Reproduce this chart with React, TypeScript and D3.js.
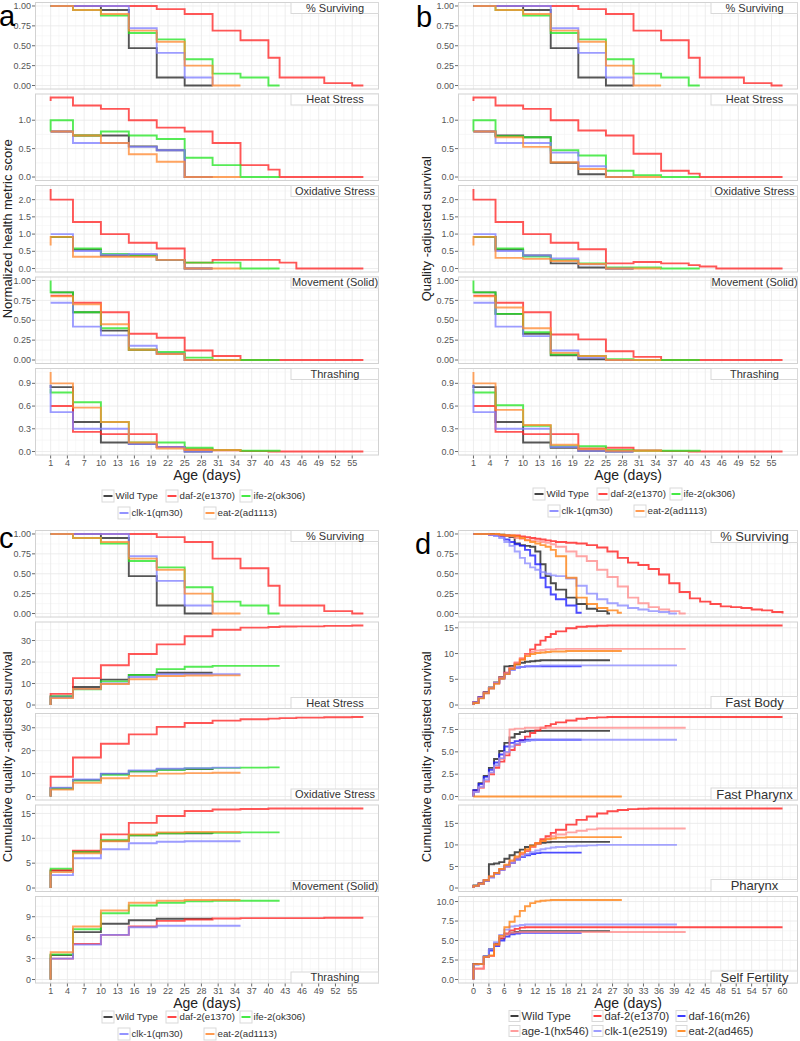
import React from "react";
import * as d3 from "d3";

// ---------- Panels a, b, c (day grid, first point duplicated = start value) ----------
const abcDays = [1, 1, 5, 10, 15, 20, 25, 30, 35, 40, 42, 45, 50, 55, 57];
const abcXTicks = [1, 4, 7, 10, 13, 16, 19, 22, 25, 28, 31, 34, 37, 40, 43, 46, 49, 52, 55];
const abcStrains = ["Wild Type", "daf-2(e1370)", "ife-2(ok306)", "clk-1(qm30)", "eat-2(ad1113)"];
const abcColors = ["#262626", "#ff2626", "#26e626", "#8080ff", "#ff8a33"];
const abcMetrics = ["% Surviving", "Heat Stress", "Oxidative Stress", "Movement (Solid)", "Thrashing"];

// series order: Wild Type, daf-2, ife-2, clk-1, eat-2
const survival = [
  [1, 1, 1, 0.95, 0.47, 0.1, 0, 0],
  [1, 1, 1, 1, 1, 0.96, 0.9, 0.69, 0.57, 0.35, 0.1, 0.1, 0.03, 0, 0],
  [1, 1, 0.95, 0.88, 0.66, 0.58, 0.33, 0.15, 0.1, 0, 0],
  [1, 1, 1, 1, 0.72, 0.41, 0.1, 0],
  [1, 1, 0.95, 0.9, 0.69, 0.55, 0.25, 0, 0],
];

const aHeat = [
  [0.8, 0.8, 0.73, 0.73, 0.54, 0.47, 0, 0],
  [1.34, 1.4, 1.26, 1.2, 1.0, 0.87, 0.8, 0.6, 0.21, 0.13, 0, 0, 0, 0, 0],
  [0.8, 1.0, 0.73, 0.8, 0.73, 0.67, 0.34, 0.21, 0, 0, 0],
  [0.8, 0.8, 0.6, 0.6, 0.53, 0.47, 0, 0],
  [0.8, 0.8, 0.73, 0.6, 0.4, 0.27, 0, 0, 0],
];
const aOxid = [
  [0.92, 0.92, 0.55, 0.38, 0.38, 0.25, 0, 0],
  [2.31, 2.0, 1.35, 1.0, 0.75, 0.58, 0.17, 0.25, 0.25, 0.25, 0.17, 0, 0, 0, 0],
  [0.92, 0.92, 0.58, 0.42, 0.38, 0.25, 0.17, 0.17, 0, 0, 0],
  [1.0, 1.0, 0.51, 0.4, 0.42, 0.25, 0, 0],
  [0.67, 0.92, 0.34, 0.34, 0.34, 0.25, 0, 0, 0],
];
const aMove = [
  [0.85, 0.85, 0.6, 0.37, 0.13, 0.08, 0, 0],
  [0.81, 0.81, 0.72, 0.6, 0.33, 0.28, 0.12, 0.05, 0, 0, 0, 0, 0, 0, 0],
  [1.0, 0.85, 0.6, 0.4, 0.13, 0.1, 0.03, 0, 0, 0, 0],
  [0.72, 0.72, 0.42, 0.31, 0.18, 0.08, 0, 0],
  [0.8, 0.8, 0.7, 0.45, 0.13, 0.075, 0, 0, 0],
];
const aThrash = [
  [0.88, 0.85, 0.39, 0.12, 0.1, 0.06, 0, 0],
  [0.6, 0.6, 0.26, 0.23, 0.23, 0.06, 0.03, 0.015, 0.005, 0, 0, 0, 0, 0, 0],
  [0.83, 0.78, 0.65, 0.39, 0.12, 0.12, 0.05, 0.02, 0.01, 0.01, 0],
  [0.88, 0.52, 0.3, 0.3, 0.1, 0.06, 0, 0],
  [1.05, 0.9, 0.58, 0.39, 0.12, 0.04, 0.02, 0.02, 0],
];

const bHeat = [
  [0.8, 0.8, 0.73, 0.7, 0.25, 0.05, 0, 0],
  [1.34, 1.4, 1.26, 1.2, 1.0, 0.82, 0.73, 0.41, 0.11, 0.06, 0, 0, 0, 0, 0],
  [0.8, 1.0, 0.72, 0.7, 0.47, 0.38, 0.11, 0.03, 0, 0, 0],
  [0.8, 0.8, 0.6, 0.6, 0.43, 0.19, 0, 0],
  [0.8, 0.8, 0.7, 0.53, 0.26, 0.14, 0, 0, 0],
];
const bOxid = [
  [0.92, 0.92, 0.55, 0.38, 0.15, 0.03, 0, 0],
  [2.31, 2.0, 1.35, 1.0, 0.75, 0.56, 0.15, 0.19, 0.15, 0.1, 0.06, 0, 0, 0, 0],
  [0.92, 0.92, 0.58, 0.35, 0.25, 0.15, 0.03, 0.03, 0, 0, 0],
  [1.0, 1.0, 0.51, 0.38, 0.29, 0.12, 0, 0],
  [0.67, 0.92, 0.31, 0.28, 0.22, 0.13, 0, 0, 0],
];
const bMove = [
  [0.85, 0.85, 0.58, 0.33, 0.06, 0.01, 0, 0],
  [0.81, 0.81, 0.72, 0.6, 0.32, 0.26, 0.11, 0.04, 0, 0, 0, 0, 0, 0, 0],
  [1.0, 0.85, 0.58, 0.35, 0.07, 0.05, 0.01, 0, 0, 0, 0],
  [0.72, 0.72, 0.42, 0.3, 0.12, 0.03, 0, 0],
  [0.8, 0.8, 0.66, 0.4, 0.09, 0.05, 0, 0, 0],
];
const bThrash = [
  [0.88, 0.85, 0.39, 0.12, 0.05, 0.01, 0, 0],
  [0.6, 0.6, 0.26, 0.23, 0.23, 0.04, 0.05, 0.015, 0.005, 0, 0, 0, 0, 0, 0],
  [0.83, 0.78, 0.61, 0.34, 0.07, 0.07, 0.02, 0.01, 0.01, 0.01, 0],
  [0.88, 0.52, 0.3, 0.3, 0.06, 0.01, 0, 0],
  [1.05, 0.9, 0.55, 0.35, 0.09, 0.03, 0.01, 0.01, 0],
];

const cHeat = [
  [0, 4, 8.4, 11.8, 14, 15, 15, 15],
  [0, 5.2, 12.5, 18.5, 23.7, 28.2, 32, 35, 36, 36.3, 36.5, 36.6, 36.8, 37, 37],
  [0, 4, 7.3, 11, 14, 16.7, 17.8, 18.2, 18.2, 18.2, 18.2],
  [0, 3.5, 7.5, 10, 13, 14.3, 14.3, 14.3, 14.3],
  [0, 3.2, 7.5, 9.8, 12, 13.5, 13.7, 13.8, 13.8],
];
const cOxid = [
  [0, 3.6, 7.2, 9.8, 11, 11.8, 12, 12.1],
  [0, 8.6, 17, 23, 27.1, 30.4, 32.1, 33.1, 33.7, 34, 34.2, 34.4, 34.6, 34.7, 34.7],
  [0, 3.5, 7, 9.5, 11, 11.7, 12.2, 12.5, 12.6, 12.7, 12.7],
  [0, 3.9, 7.4, 10, 11.4, 12.1, 12.4, 12.6, 12.6],
  [0, 3.0, 6, 8, 9, 10, 10.2, 10.4, 10.4],
];
const cMove = [
  [0, 3.5, 7.3, 9.5, 10.6, 11, 11, 10.9],
  [0, 3.6, 7.5, 10.8, 13.1, 14.5, 15.5, 15.8, 15.9, 16, 16, 16, 16, 16, 16],
  [0, 3.9, 7.2, 9.6, 10.6, 11, 11.1, 11.1, 11.2, 11.2, 11.2],
  [0, 2.6, 6, 7.8, 9, 9.3, 9.4, 9.4, 9.4],
  [0, 3.2, 7, 9.4, 10.8, 11.2, 11.3, 11.3, 11.3],
];
const cThrash = [
  [0, 3.5, 6.8, 8.0, 8.5, 8.7, 8.7, 8.7],
  [0, 3, 5.1, 6.4, 7.6, 8.4, 8.6, 8.75, 8.8, 8.8, 8.8, 8.8, 8.85, 8.85, 8.85],
  [0, 3.6, 7.2, 9.5, 10.6, 11, 11.2, 11.3, 11.3, 11.3, 11.3],
  [0, 3, 5, 6.4, 7.5, 7.7, 7.7, 7.7, 7.7],
  [0, 3.9, 7.6, 9.9, 11, 11.3, 11.4, 11.4, 11.4],
];

// ---------- Panel d ----------
const dDays = [0, 0, 1, 2, 3, 4, 5, 6, 7, 8, 9, 10, 11, 12, 13, 14, 15, 16, 18, 20, 22, 24, 26, 28, 30, 32, 34, 36, 38, 40, 42, 44, 46, 48, 50, 52, 54, 56, 58, 60];
const dXTicks = [0, 3, 6, 9, 12, 15, 18, 21, 24, 27, 30, 33, 36, 39, 42, 45, 48, 51, 54, 57, 60];
const dStrains = ["Wild Type", "daf-2(e1370)", "daf-16(m26)", "age-1(hx546)", "clk-1(e2519)", "eat-2(ad465)"];
const dColors = ["#1a1a1a", "#ff1a1a", "#1a1aff", "#ff8c8c", "#8c8cff", "#ff7f0e"];
const dEnds = [26.5, 60, 21, 41.2, 39.5, 28.8];
const dMetrics = ["% Surviving", "Fast Body", "Fast Pharynx", "Pharynx", "Self Fertility"];

// series order: Wild Type, daf-2, daf-16, age-1, clk-1, eat-2
const dSurv = [
  [1, 1, 1, 1, 1, 0.99, 0.99, 0.98, 0.96, 0.88, 0.86, 0.85, 0.84, 0.78, 0.62, 0.47, 0.38, 0.3, 0.2, 0.12, 0.06, 0.03, 0.0],
  [1, 1, 1, 1, 0.99, 0.99, 0.98, 0.98, 0.98, 0.98, 0.97, 0.96, 0.95, 0.94, 0.93, 0.92, 0.91, 0.9, 0.89, 0.88, 0.86, 0.83, 0.78, 0.7, 0.64, 0.61, 0.56, 0.49, 0.38, 0.27, 0.19, 0.15, 0.12, 0.09, 0.08, 0.07, 0.05, 0.04, 0.02, 0.0],
  [1, 1, 1, 1, 0.99, 0.98, 0.97, 0.93, 0.9, 0.87, 0.85, 0.8, 0.73, 0.62, 0.45, 0.33, 0.24, 0.18, 0.1, 0.01],
  [1, 1, 1, 1, 0.99, 0.99, 0.98, 0.98, 0.97, 0.95, 0.94, 0.93, 0.92, 0.91, 0.9, 0.89, 0.87, 0.84, 0.78, 0.72, 0.66, 0.55, 0.46, 0.34, 0.2, 0.13, 0.08, 0.05, 0.03, 0.0],
  [1, 1, 1, 1, 0.99, 0.98, 0.95, 0.9, 0.85, 0.78, 0.7, 0.63, 0.58, 0.55, 0.52, 0.5, 0.48, 0.47, 0.44, 0.35, 0.25, 0.18, 0.13, 0.1, 0.07, 0.05, 0.03, 0.02, 0.0],
  [1, 1, 1, 1, 1, 1, 0.99, 0.98, 0.98, 0.97, 0.95, 0.92, 0.9, 0.88, 0.86, 0.84, 0.8, 0.72, 0.45, 0.2, 0.12, 0.07, 0.04, 0.01],
];
const dFastBody = [
  [0, 0.6, 1.5, 2.5, 3.4, 4.4, 5.4, 7.5, 7.6, 7.9, 8.2, 8.4, 8.5, 8.6, 8.7],
  [0, 0.5, 1.5, 2.4, 3.3, 4.3, 5.3, 6.3, 7.2, 8.2, 9.0, 9.9, 10.8, 11.7, 12.5, 13.2, 13.8, 14.3, 14.9, 15.2, 15.3, 15.4, 15.45],
  [0, 0.5, 1.5, 2.4, 3.3, 4.3, 5.2, 6.1, 6.9, 7.3, 7.4, 7.5],
  [0, 0.5, 1.4, 2.4, 3.3, 4.3, 5.3, 6.2, 7.2, 8.2, 9.1, 9.8, 10.3, 10.6, 10.7, 10.8, 10.8, 10.9],
  [0, 0.5, 1.4, 2.3, 3.2, 4.2, 5.1, 6.0, 6.8, 7.2, 7.4, 7.5, 7.6, 7.6, 7.7],
  [0, 0.4, 1.3, 2.3, 3.2, 4.1, 5.1, 6.0, 7.0, 7.9, 8.8, 9.5, 9.9, 10.1, 10.2, 10.3, 10.4, 10.4, 10.5],
];
const dFastPharynx = [
  [0, 0.7, 1.5, 2.3, 3.2, 4.2, 5.1, 6.0, 6.6, 7.0, 7.2, 7.3, 7.35],
  [0, 0.6, 1.0, 1.7, 2.5, 3.2, 3.9, 4.6, 5.2, 5.8, 6.3, 6.7, 7.1, 7.4, 7.7, 7.9, 8.1, 8.3, 8.5, 8.7, 8.8, 8.85, 8.9],
  [0, 0.7, 1.4, 2.2, 3.0, 3.8, 4.7, 5.6, 6.0, 6.2, 6.3, 6.35],
  [0, 0.5, 1.0, 1.7, 2.6, 3.4, 4.2, 4.9, 7.5, 7.6, 7.6, 7.7],
  [0, 0.5, 1.1, 1.9, 2.7, 3.5, 4.3, 5.0, 5.6, 5.9, 6.1, 6.2, 6.3, 6.35],
  [0, 0],
];
const dPharynx = [
  [0, 0.6, 1.1, 1.8, 5.5, 5.7, 6.0, 6.8, 7.6, 8.3, 8.9, 9.5, 9.9, 10.2, 10.5, 10.6, 10.7],
  [0, 0.5, 1.0, 1.8, 2.6, 3.5, 4.3, 5.0, 5.8, 6.8, 7.8, 8.6, 9.5, 10.4, 11.3, 12.0, 12.8, 13.5, 14.7, 15.8, 16.6, 17.3, 17.8, 18.1, 18.3, 18.4, 18.45],
  [0, 0.5, 1.0, 1.7, 2.5, 3.3, 4.2, 5.1, 5.9, 6.6, 7.2, 7.6, 7.9, 8.1, 8.2],
  [0, 0.5, 1.0, 1.8, 2.6, 3.4, 4.3, 5.2, 6.1, 7.0, 7.9, 8.7, 9.5, 10.2, 10.9, 11.5, 12.0, 12.4, 12.9, 13.3, 13.6, 13.8],
  [0, 0.5, 1.0, 1.7, 2.5, 3.3, 4.2, 5.0, 5.8, 6.6, 7.3, 7.9, 8.3, 8.7, 9.0, 9.2, 9.4, 9.5, 9.7, 9.8, 9.9, 10.0],
  [0, 0.5, 1.0, 1.8, 2.7, 3.5, 4.4, 5.4, 6.4, 7.3, 8.2, 9.0, 9.8, 10.4, 10.9, 11.3, 11.5, 11.7, 11.8],
];
const dSelfFert = [
  [0, 2.0, 2.0, 3.0, 3.9, 4.6, 5.3, 5.8, 6.0, 6.1, 6.2],
  [0, 1.4, 1.4, 2.9, 3.0, 4.5, 5.3, 5.9, 6.3, 6.5, 6.65, 6.7],
  [0, 2.0, 2.0, 2.9, 3.7, 4.3, 5.0, 5.5, 5.8, 5.9, 6.0],
  [0, 1.4, 1.4, 2.9, 3.0, 4.5, 5.4, 5.8, 6.0, 6.05, 6.1],
  [0, 1.9, 2.0, 3.0, 3.9, 4.8, 5.7, 6.4, 6.8, 6.9, 7.0, 7.05],
  [0, 2.0, 2.0, 2.9, 3.1, 4.5, 5.6, 6.7, 7.4, 8.1, 8.8, 9.4, 9.8, 10.0, 10.1, 10.15, 10.2],
];

// ---------- y tick labels ----------
const ticksSurv = [0, 0.25, 0.5, 0.75, 1];
const ticksHalf3 = [0, 0.5, 1];
const ticksHalf5 = [0, 0.5, 1, 1.5, 2];
const ticksThrashA = [0, 0.3, 0.6, 0.9];
const ticksTens = [0, 10, 20, 30];
const ticksFives = [0, 5, 10, 15];
const ticksThrees = [0, 3, 6, 9];
const ticksQuarter4 = [0, 2.5, 5, 7.5];
const ticksQuarter5 = [0, 2.5, 5, 7.5, 10];

const FONT = "'Liberation Sans', Arial, sans-serif";

type Facet = { label: string; series: number[][]; ticks: number[]; digits: number };

function mkFacets(labels: string[], data: number[][][], ticks: number[][], digits: number[]): Facet[] {
  return labels.map((l, i) => ({ label: l, series: data[i], ticks: ticks[i], digits: digits[i] }));
}

const facetsA = mkFacets(abcMetrics, [survival, aHeat, aOxid, aMove, aThrash], [ticksSurv, ticksHalf3, ticksHalf5, ticksSurv, ticksThrashA], [2, 1, 1, 2, 1]);
const facetsB = mkFacets(abcMetrics, [survival, bHeat, bOxid, bMove, bThrash], [ticksSurv, ticksHalf3, ticksHalf5, ticksSurv, ticksThrashA], [2, 1, 1, 2, 1]);
const facetsC = mkFacets(abcMetrics, [survival, cHeat, cOxid, cMove, cThrash], [ticksSurv, ticksTens, ticksTens, ticksFives, ticksThrees], [2, 0, 0, 0, 0]);
const facetsD = mkFacets(dMetrics, [dSurv, dFastBody, dFastPharynx, dPharynx, dSelfFert], [ticksSurv, ticksFives, ticksQuarter4, ticksFives, ticksQuarter5], [2, 0, 1, 0, 1]);

type PanelProps = {
  x0: number; x1: number; top: number; fh: number; gap: number;
  days: number[]; xTicks: number[]; facets: Facet[]; colors: string[]; ends?: number[];
  stripW: number; stripH: number; stripFont: number; stripBottom: boolean;
  letter: string; letterX: number; letterY: number;
  yTitle: string; yTitleX: number;
  legendNames: string[]; legendRows: number[][]; legendX: number[][]; legendY: number[]; legendFont: number; keySize: number;
};

function Panel(p: PanelProps) {
  const allDays = p.ends ? [...p.days, ...p.ends] : p.days;
  const dMin = d3.min(allDays) as number;
  const dMax = d3.max(allDays) as number;
  const xpad = (dMax - dMin) * 0.05;
  const x = d3.scaleLinear().domain([dMin - xpad, dMax + xpad]).range([p.x0, p.x1]);
  const [xd0, xd1] = x.domain();
  const xStep = p.xTicks[1] - p.xTicks[0];
  const xMinor: number[] = [];
  for (let i = -1; i < p.xTicks.length; i++) {
    const m = p.xTicks[0] + xStep * i + xStep / 2;
    if (m > xd0 && m < xd1) xMinor.push(m);
  }
  const bottomAll = p.top + 5 * p.fh + 4 * p.gap;
  const midY = (p.top + bottomAll) / 2;

  return (
    <g>
      {p.facets.map((f, fi) => {
        const ft = p.top + fi * (p.fh + p.gap);
        const fb = ft + p.fh;
        const vals = f.series.flat();
        const lo = Math.min(0, d3.min(vals) as number);
        const hi = d3.max(vals) as number;
        const pad = (hi - lo) * 0.05;
        const y = d3.scaleLinear().domain([lo - pad, hi + pad]).range([fb, ft]);
        const [yd0, yd1] = y.domain();
        const yStep = f.ticks[1] - f.ticks[0];
        const yMinor: number[] = [];
        for (let i = -1; i < f.ticks.length; i++) {
          const m = f.ticks[0] + yStep * i + yStep / 2;
          if (m > yd0 && m < yd1) yMinor.push(m);
        }
        const line = d3.line<[number, number]>().x((d) => x(d[0])).y((d) => y(d[1])).curve(d3.curveStepAfter);
        const stripY = p.stripBottom && fi > 0 ? fb - p.stripH : ft;
        return (
          <g key={fi}>
            <rect x={p.x0} y={ft} width={p.x1 - p.x0} height={p.fh} fill="#ffffff" />
            {xMinor.map((m, i) => (
              <line key={"xm" + i} x1={x(m)} x2={x(m)} y1={ft} y2={fb} stroke="#f4f4f4" strokeWidth={0.6} />
            ))}
            {yMinor.map((m, i) => (
              <line key={"ym" + i} x1={p.x0} x2={p.x1} y1={y(m)} y2={y(m)} stroke="#f4f4f4" strokeWidth={0.6} />
            ))}
            {p.xTicks.map((t, i) => (
              <line key={"xg" + i} x1={x(t)} x2={x(t)} y1={ft} y2={fb} stroke="#e8e8e8" strokeWidth={0.8} />
            ))}
            {f.ticks.map((t, i) => (
              <line key={"yg" + i} x1={p.x0} x2={p.x1} y1={y(t)} y2={y(t)} stroke="#e8e8e8" strokeWidth={0.8} />
            ))}
            {f.series.map((s, si) => {
              const pts: [number, number][] = s.map((v, i) => [p.days[i], v]);
              if (p.ends) {
                const e = p.ends[si];
                if (e > p.days[s.length - 1]) pts.push([e, s[s.length - 1]]);
              }
              return (
                <path key={"s" + si} d={line(pts) || ""} fill="none" stroke={p.colors[si]} strokeWidth={1.9} strokeOpacity={0.78} />
              );
            })}
            <rect x={p.x0 + 0.5} y={ft + 0.5} width={p.x1 - p.x0 - 1} height={p.fh - 1} fill="none" stroke="#d2d2d2" strokeWidth={1} />
            {f.ticks.map((t, i) => (
              <g key={"yt" + i}>
                <line x1={p.x0 - 3} x2={p.x0} y1={y(t)} y2={y(t)} stroke="#444" strokeWidth={0.8} />
                <text x={p.x0 - 4} y={y(t)} dy="0.35em" textAnchor="end" fontSize={9} fill="#555" fontFamily={FONT}>
                  {t.toFixed(f.digits)}
                </text>
              </g>
            ))}
            <rect x={p.x1 - p.stripW} y={stripY + 0.5} width={p.stripW - 0.5} height={p.stripH - 1} fill="#ffffff" stroke="#d9d9d9" strokeWidth={1} />
            <text x={p.x1 - p.stripW / 2} y={stripY + p.stripH / 2} dy="0.36em" textAnchor="middle" fontSize={p.stripFont} fill="#333" fontFamily={FONT}>
              {f.label}
            </text>
          </g>
        );
      })}
      {p.xTicks.map((t, i) => (
        <g key={"xt" + i}>
          <line x1={x(t)} x2={x(t)} y1={bottomAll} y2={bottomAll + 3} stroke="#444" strokeWidth={0.8} />
          <text x={x(t)} y={bottomAll + 10.5} textAnchor="middle" fontSize={9} fill="#555" fontFamily={FONT}>
            {t}
          </text>
        </g>
      ))}
      <text x={(p.x0 + p.x1) / 2} y={bottomAll + 24.5} textAnchor="middle" fontSize={14} fill="#222" fontFamily={FONT}>
        Age (days)
      </text>
      <text transform={`translate(${p.yTitleX},${midY}) rotate(-90)`} textAnchor="middle" fontSize={13} fill="#222" fontFamily={FONT}>
        {p.yTitle}
      </text>
      <text x={p.letterX} y={p.letterY} fontSize={29} fill="#000" fontFamily={FONT}>
        {p.letter}
      </text>
      {p.legendRows.map((row, ri) =>
        row.map((si, ci) => {
          const kx = p.legendX[ri][ci];
          const ky = p.legendY[ri];
          const k = p.keySize;
          return (
            <g key={"lg" + ri + "-" + ci}>
              <rect x={kx} y={ky - k / 2} width={k} height={k} fill="#ffffff" stroke="#d9d9d9" strokeWidth={1} />
              <line x1={kx + 1.5} x2={kx + k - 1.5} y1={ky} y2={ky} stroke={p.colors[si]} strokeWidth={2} strokeOpacity={0.85} />
              <text x={kx + k + 1.5} y={ky} dy="0.36em" fontSize={p.legendFont} fill="#333" fontFamily={FONT}>
                {p.legendNames[si]}
              </text>
            </g>
          );
        })
      )}
    </g>
  );
}

export default function App() {
  const abcRows = [[0, 1, 2], [3, 4]];
  const dRows = [[0, 1, 2], [3, 4, 5]];
  return (
    <svg width={800} height={1041} style={{ position: "absolute", left: 0, top: 0, background: "#fff" }}>
      <rect x={0} y={0} width={800} height={1041} fill="#ffffff" />
      <Panel
        x0={35} x1={379} top={2} fh={87.5} gap={4}
        days={abcDays} xTicks={abcXTicks} facets={facetsA} colors={abcColors}
        stripW={88} stripH={12} stripFont={11} stripBottom={false}
        letter="a" letterX={-1} letterY={26}
        yTitle="Normalized health metric score" yTitleX={12}
        legendNames={abcStrains} legendRows={abcRows}
        legendX={[[102, 166, 240], [118, 204]]} legendY={[496, 513]} legendFont={9.7} keySize={12}
      />
      <Panel
        x0={458} x1={798} top={2} fh={87.5} gap={4}
        days={abcDays} xTicks={abcXTicks} facets={facetsB} colors={abcColors}
        stripW={87} stripH={12} stripFont={11} stripBottom={false}
        letter="b" letterX={416} letterY={27}
        yTitle="Quality -adjusted survival" yTitleX={431}
        legendNames={abcStrains} legendRows={abcRows}
        legendX={[[533, 597, 670], [548, 634]]} legendY={[494, 511]} legendFont={9.7} keySize={12}
      />
      <Panel
        x0={35} x1={379} top={530} fh={87.5} gap={4}
        days={abcDays} xTicks={abcXTicks} facets={facetsC} colors={abcColors}
        stripW={88} stripH={12} stripFont={11} stripBottom={true}
        letter="c" letterX={-1} letterY={548}
        yTitle="Cumulative quality -adjusted survival" yTitleX={12}
        legendNames={abcStrains} legendRows={abcRows}
        legendX={[[102, 166, 240], [118, 204]]} legendY={[1017, 1034]} legendFont={9.7} keySize={12}
      />
      <Panel
        x0={458} x1={798} top={530} fh={87.5} gap={4}
        days={dDays} xTicks={dXTicks} facets={facetsD} colors={dColors} ends={dEnds}
        stripW={87} stripH={13} stripFont={13} stripBottom={true}
        letter="d" letterX={415} letterY={554}
        yTitle="Cumulative quality -adjusted survival" yTitleX={431}
        legendNames={dStrains} legendRows={dRows}
        legendX={[[509, 592, 676], [509, 592, 676]]} legendY={[1016, 1031]} legendFont={11.3} keySize={11}
      />
    </svg>
  );
}
